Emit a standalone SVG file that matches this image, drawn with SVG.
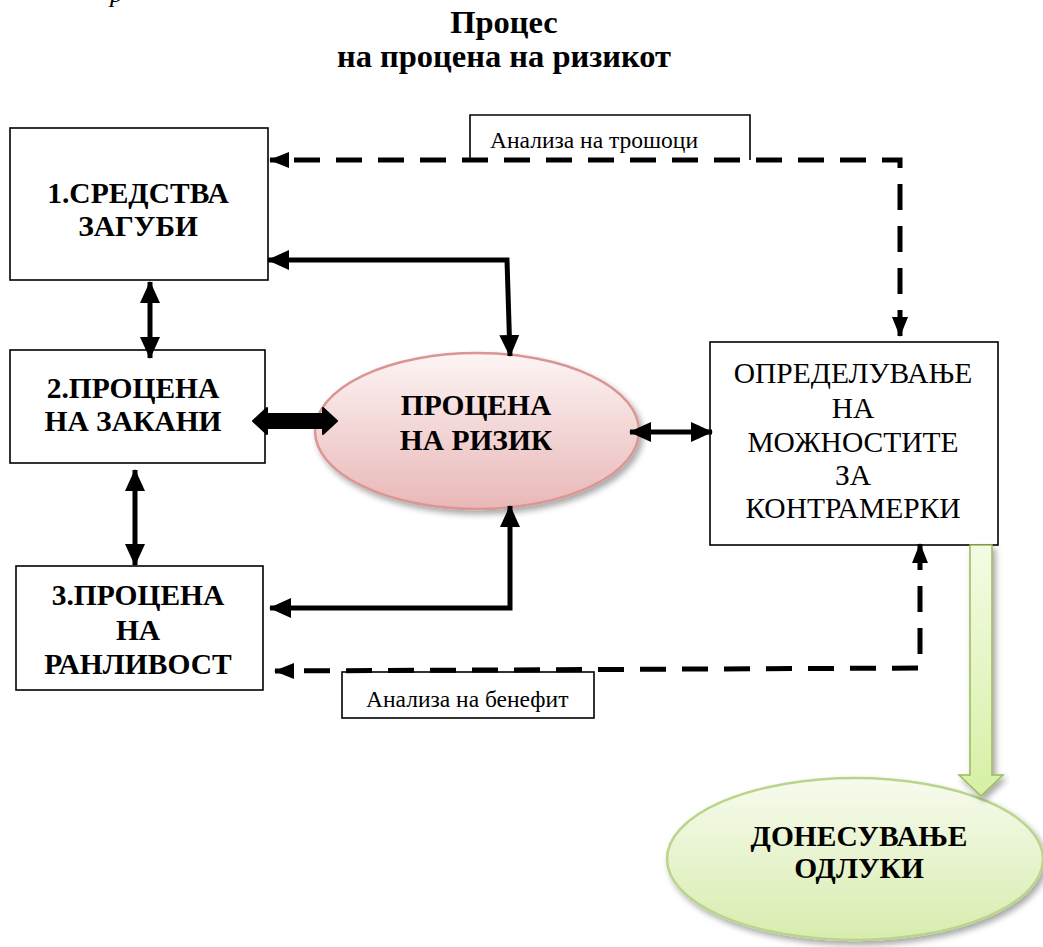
<svg xmlns="http://www.w3.org/2000/svg" width="1043" height="947" viewBox="0 0 1043 947">
<defs>
<style>
.t{font-family:"Liberation Serif","Times New Roman",serif;fill:#000}
.b{font-weight:bold;font-size:29.5px}
.n{font-size:29.5px}
.s{font-size:23.5px}
.box{fill:#fff;stroke:#000;stroke-width:1.6}
.sol{fill:none;stroke:#000;stroke-width:5}
.dash{fill:none;stroke:#000;stroke-width:5;stroke-dasharray:26 16}
</style>
<marker id="ah" markerUnits="userSpaceOnUse" markerWidth="22" markerHeight="22" viewBox="0 0 22 22" refX="21" refY="11" orient="auto-start-reverse">
<path d="M0,1 L22,11 L0,21 z" fill="#000"/>
</marker>
<marker id="ad" markerUnits="userSpaceOnUse" markerWidth="20" markerHeight="20" viewBox="0 0 20 20" refX="19" refY="10" orient="auto-start-reverse">
<path d="M0,2 L20,10 L0,18 z" fill="#000"/>
</marker>
<linearGradient id="pink" x1="0" y1="0" x2="0" y2="1">
<stop offset="0" stop-color="#fdf4f4"/>
<stop offset="1" stop-color="#e9b7b7"/>
</linearGradient>
<linearGradient id="green" x1="0" y1="0" x2="0" y2="1">
<stop offset="0" stop-color="#f7fbee"/>
<stop offset="1" stop-color="#d8ecae"/>
</linearGradient>
<linearGradient id="garrow" x1="0" y1="0" x2="0" y2="1">
<stop offset="0" stop-color="#f4fbe4"/>
<stop offset="1" stop-color="#d6f0a4"/>
</linearGradient>
<filter id="sh" x="-10%" y="-10%" width="125%" height="130%">
<feGaussianBlur in="SourceAlpha" stdDeviation="3"/>
<feOffset dx="3" dy="4"/>
<feComponentTransfer><feFuncA type="linear" slope="0.35"/></feComponentTransfer>
<feMerge><feMergeNode/><feMergeNode in="SourceGraphic"/></feMerge>
</filter>
</defs>
<rect width="1043" height="947" fill="#fff"/>

<text class="t" x="110" y="2" font-size="26" font-style="italic">р</text>

<g id="title">
<text class="t" x="504" y="33" text-anchor="middle" font-size="32.5" font-weight="bold">Процес</text>
<text class="t" x="504" y="67" text-anchor="middle" font-size="32.5" font-weight="bold">на процена на ризикот</text>
</g>

<g id="label-costs">
<path d="M470,160 L470,115 L750,115 L750,160" fill="#fff" stroke="#000" stroke-width="1.6"/>
<text class="t s" x="490" y="148">Анализа на трошоци</text>
</g>

<g id="label-benefit">
<rect class="box" x="342" y="672" width="252" height="46"/>
<text class="t s" x="366" y="707">Анализа на бенефит</text>
</g>

<g id="node1">
<rect class="box" x="10" y="128" width="258" height="152"/>
<text class="t b" x="138" y="203" text-anchor="middle">1.СРЕДСТВА</text>
<text class="t b" x="138" y="236" text-anchor="middle">ЗАГУБИ</text>
</g>

<g id="node2">
<rect class="box" x="10" y="350" width="255" height="113"/>
<text class="t b" x="133" y="398" text-anchor="middle">2.ПРОЦЕНА</text>
<text class="t b" x="133" y="431" text-anchor="middle">НА ЗАКАНИ</text>
</g>

<g id="node3">
<rect class="box" x="16" y="566" width="247" height="124"/>
<text class="t b" x="138" y="605" text-anchor="middle">3.ПРОЦЕНА</text>
<text class="t b" x="138" y="640" text-anchor="middle">НА</text>
<text class="t b" x="138" y="674" text-anchor="middle">РАНЛИВОСТ</text>
</g>

<g id="risk">
<ellipse cx="477" cy="431" rx="162" ry="78" fill="url(#pink)" stroke="#d99694" stroke-width="2.5" filter="url(#sh)"/>
<text class="t b" x="476" y="415" text-anchor="middle">ПРОЦЕНА</text>
<text class="t b" x="476" y="450" text-anchor="middle">НА РИЗИК</text>
</g>

<g id="node4">
<rect class="box" x="710" y="342" width="288" height="203"/>
<text class="t n" x="853" y="383" text-anchor="middle">ОПРЕДЕЛУВАЊЕ</text>
<text class="t n" x="853" y="418" text-anchor="middle">НА</text>
<text class="t n" x="853" y="452" text-anchor="middle">МОЖНОСТИТЕ</text>
<text class="t n" x="853" y="485" text-anchor="middle">ЗА</text>
<text class="t n" x="853" y="518" text-anchor="middle">КОНТРАМЕРКИ</text>
</g>

<g id="decision">
<ellipse cx="855" cy="859" rx="188" ry="81" fill="url(#green)" stroke="#b9d589" stroke-width="2.5" filter="url(#sh)"/>
<text class="t b" x="859" y="846" text-anchor="middle">ДОНЕСУВАЊЕ</text>
<text class="t b" x="859" y="878" text-anchor="middle">ОДЛУКИ</text>
</g>

<g id="connectors">
<!-- dashed top -->
<path class="dash" d="M900,336 L900,160 L270,160" marker-start="url(#ad)" marker-end="url(#ad)"/>
<!-- solid top -->
<path class="sol" d="M510,356 L507,260 L268,260" marker-start="url(#ah)" marker-end="url(#ah)"/>
<!-- box1 <-> box2 -->
<path class="sol" d="M150,282 L150,358" stroke-width="6" marker-start="url(#ah)" marker-end="url(#ah)"/>
<!-- box2 <-> box3 -->
<path class="sol" d="M135,470 L135,565" stroke-width="6" marker-start="url(#ah)" marker-end="url(#ah)"/>
<!-- box2 <-> risk (thick) -->
<path d="M253,421 L267,408 L267,414 L323,414 L323,408 L337,421 L323,434 L323,428 L267,428 L267,434 Z" fill="#000" stroke="#000" stroke-width="2" stroke-linejoin="round"/>
<!-- risk <-> box4 -->
<path class="sol" d="M630,432 L712,432" marker-start="url(#ah)" marker-end="url(#ah)"/>
<!-- solid bottom -->
<path class="sol" d="M510,506 L510,608 L270,608" marker-start="url(#ah)" marker-end="url(#ah)"/>
<!-- dashed bottom -->
<path class="dash" d="M920,544 L920,668 L275,671" marker-start="url(#ad)" marker-end="url(#ad)"/>
<!-- green arrow -->
<path d="M970,545 L992,545 L992,775 L1003,775 L981,796 L959,775 L970,775 Z" fill="url(#garrow)" stroke="#9bbb59" stroke-width="1.5" filter="url(#sh)"/>
</g>
</svg>
